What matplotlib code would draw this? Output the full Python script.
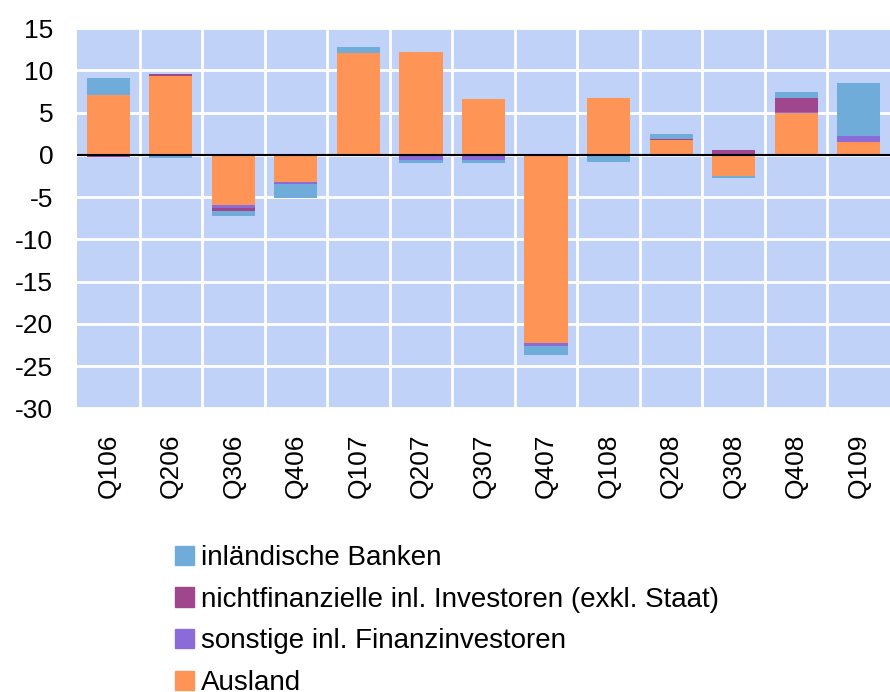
import matplotlib
matplotlib.use("Agg")
import matplotlib.pyplot as plt
import numpy as np
from matplotlib.patches import Patch

plt.rcParams['font.family'] = ['Liberation Sans', 'DejaVu Sans']
plt.rcParams['axes.unicode_minus'] = False

quarters = ["Q106", "Q206", "Q306", "Q406", "Q107", "Q207", "Q307",
            "Q407", "Q108", "Q208", "Q308", "Q408", "Q109"]
ausland = [7.1, 9.3, -5.9, -3.2, 12.1, 12.2, 6.6, -22.25, 6.7, 1.75, -2.5, 4.95, 1.5]
sonstige = [-0.1, 0.0, -0.45, -0.25, -0.2, -0.6, -0.6, -0.35, 0.0, -0.2, 0.0, 0.1, 0.7]
nichtfin = [-0.15, 0.25, -0.25, 0.0, 0.0, 0.0, 0.0, 0.1, 0.0, 0.12, 0.6, 1.65, 0.0]
banken = [2.0, -0.4, -0.6, -1.65, 0.6, -0.35, -0.35, -1.05, -0.8, 0.6, -0.25, 0.7, 6.25]

series = [
    ("Ausland", ausland, "#FF9457"),
    ("sonstige inl. Finanzinvestoren", sonstige, "#8A6BD8"),
    ("nichtfinanzielle inl. Investoren (exkl. Staat)", nichtfin, "#A0468C"),
    ("inländische Banken", banken, "#6FACD9"),
]

fig = plt.figure(figsize=(8.9, 6.92), dpi=100)
ax = fig.add_axes([0.0865, 0.41, 0.9135, 0.5495])
ax.set_facecolor("#C0D2F8")

x = np.arange(len(quarters))
pos = np.zeros(len(quarters))
neg = np.zeros(len(quarters))
for name, vals, col in series:
    v = np.array(vals)
    bottom = np.where(v >= 0, pos, neg)
    ax.bar(x, v, 0.69, bottom=bottom, color=col, zorder=3)
    pos = pos + np.where(v >= 0, v, 0)
    neg = neg + np.where(v < 0, v, 0)

ax.axhline(0, color="black", lw=1.5, zorder=4)
ax.set_xlim(-0.5, len(quarters) - 0.5)
ax.set_ylim(-30, 15)
ax.set_yticks(range(-30, 16, 5))
ax.set_xticks(x)
ax.set_xticklabels(quarters, rotation=90)
ax.set_xticks(np.arange(0.5, len(quarters) - 0.5), minor=True)
ax.grid(True, axis="y", color="white", lw=2, zorder=1)
ax.grid(True, axis="x", which="minor", color="white", lw=2, zorder=1)
ax.tick_params(axis="both", which="both", length=0, labelsize=19)
ax.tick_params(axis="x", pad=18)
ax.tick_params(axis="y", pad=17)
for s in ax.spines.values():
    s.set_visible(False)

handles = [Patch(color=col, label=name) for name, vals, col in reversed(series)]
fig.legend(handles=handles, loc="upper left", bbox_to_anchor=(0.184, 0.228),
           frameon=False, fontsize=20, handlelength=0.7, handleheight=0.7,
           handletextpad=0.25, labelspacing=0.56, borderaxespad=0)

fig.savefig("out.png", dpi=100)
